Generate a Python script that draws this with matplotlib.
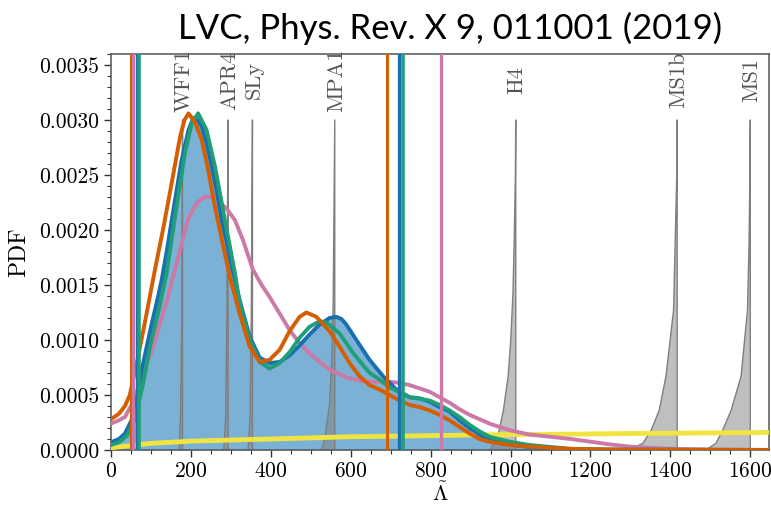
import numpy as np
import matplotlib
matplotlib.use("Agg")
import matplotlib.pyplot as plt
from matplotlib.ticker import MultipleLocator, FormatStrFormatter

plt.rcParams["font.family"] = "serif"
plt.rcParams["font.serif"] = ["cmr10"]
plt.rcParams["mathtext.fontset"] = "cm"
plt.rcParams["axes.formatter.use_mathtext"] = True

# posterior curves (Lambda-tilde, PDF)
blue_lam = [0, 20, 35, 50, 60, 77, 90, 102, 115, 127, 140, 152, 165, 177, 194, 206, 217, 227, 240, 252,
            265, 277, 290, 302, 322, 347, 372, 397, 422, 447, 472, 497, 522, 547, 564, 577, 589, 614,
            647, 681, 714, 747, 772, 797, 822, 847, 872, 897, 922, 947, 972, 1022, 1100, 1200, 1650]
blue_pdf = [0.00007, 0.0001, 0.00015, 0.00026, 0.00036, 0.00073, 0.00095, 0.00115, 0.00135, 0.00155,
            0.00182, 0.00209, 0.00238, 0.00264, 0.00291, 0.00302, 0.00300, 0.00294, 0.00278, 0.00258,
            0.00234, 0.00209, 0.00188, 0.00167, 0.00136, 0.00103, 0.00084, 0.00079, 0.0008, 0.00086,
            0.00095, 0.00105, 0.00114, 0.0012, 0.00121, 0.00119, 0.00114, 0.001, 0.00082, 0.00067,
            0.00055, 0.00048, 0.00047, 0.00044, 0.00039, 0.00035, 0.00027, 0.0002, 0.00014, 0.00009,
            0.000067, 0.000036, 0.00001, 0.000003, 0.0]

green_lam = [0, 20, 40, 60, 80, 100, 120, 139, 160, 185, 202, 218, 239, 260, 285, 310, 322, 347, 372,
             397, 422, 447, 472, 497, 522, 539, 572, 606, 647, 672, 697, 747, 797, 822, 847, 872, 897,
             922, 947, 997, 1047, 1150, 1250, 1650]
green_pdf = [0.000045, 0.00007, 0.00013, 0.00028, 0.0006, 0.00098, 0.00128, 0.0016, 0.00212, 0.0027,
             0.00297, 0.00306, 0.00291, 0.00258, 0.00209, 0.00161, 0.00133, 0.001, 0.0008, 0.00074,
             0.00079, 0.00089, 0.00102, 0.00112, 0.00117, 0.00116, 0.00106, 0.00088, 0.0007, 0.00064,
             0.00057, 0.00048, 0.00045, 0.00041, 0.00036, 0.0003, 0.00023, 0.00017, 0.00012, 0.000075,
             0.000045, 0.00001, 0.000002, 0.0]

orange_lam = [0, 20, 35, 47, 68, 89, 110, 131, 152, 173, 184, 194, 210, 227, 243, 260, 281, 297, 322,
              347, 372, 397, 422, 447, 472, 489, 514, 547, 572, 597, 622, 647, 672, 697, 722, 747, 772,
              797, 822, 847, 872, 897, 922, 947, 997, 1047, 1150, 1300, 1650]
orange_pdf = [0.00028, 0.00033, 0.0004, 0.0005, 0.00085, 0.00124, 0.00164, 0.00202, 0.00243, 0.00285,
              0.003, 0.00306, 0.00298, 0.00282, 0.00255, 0.00221, 0.00185, 0.00158, 0.00124, 0.00094,
              0.0008, 0.00082, 0.00091, 0.00108, 0.00121, 0.00125, 0.00121, 0.00108, 0.00094, 0.00079,
              0.00067, 0.00059, 0.00055, 0.0005, 0.00045, 0.00041, 0.00039, 0.00036, 0.00032, 0.00027,
              0.00021, 0.00015, 0.0001, 0.000075, 0.000045, 0.00003, 0.00001, 0.000002, 0.0]

pink_lam = [0, 20, 35, 50, 60, 80, 100, 120, 140, 160, 175, 193, 215, 235, 252, 270, 290, 310, 330,
            355, 377, 397, 422, 447, 472, 497, 522, 547, 572, 597, 622, 647, 672, 697, 722, 747, 772,
            797, 822, 847, 872, 897, 922, 947, 972, 997, 1047, 1100, 1150, 1200, 1250, 1300, 1400,
            1500, 1650]
pink_pdf = [0.00024, 0.00027, 0.0003, 0.0004, 0.00048, 0.0007, 0.00088, 0.00112, 0.00136, 0.00164,
            0.00185, 0.0021, 0.00225, 0.0023, 0.0023, 0.00226, 0.00219, 0.00209, 0.00191, 0.00164,
            0.0015, 0.00139, 0.00124, 0.00109, 0.00097, 0.00088, 0.0008, 0.00073, 0.00069, 0.00065,
            0.00063, 0.00062, 0.00062, 0.00062, 0.00061, 0.00059, 0.00056, 0.00053, 0.00048, 0.00043,
            0.00037, 0.00032, 0.00028, 0.00024, 0.00021, 0.00018, 0.00014, 0.00012, 0.0001, 0.000075,
            0.00005, 0.00003, 0.00001, 0.000003, 0.0]

yellow_lam = [0, 50, 100, 200, 300, 400, 500, 600, 700, 800, 900, 1000, 1100, 1200, 1300, 1400, 1500,
              1600, 1650]
yellow_pdf = [0.00002, 0.00004, 0.00006, 0.00008, 0.00009, 0.0001, 0.00011, 0.00012, 0.000125, 0.00013,
              0.000135, 0.00014, 0.000142, 0.000145, 0.00015, 0.000152, 0.000155, 0.000157, 0.00016]

# 90% bounds (vertical lines)
blue_bounds = [66, 722]
green_bounds = [71, 730]
orange_bounds = [50, 690]
pink_bounds = [55, 827]

# EOS predictions
eos_names = ["WFF1", "APR4", "SLy", "MPA1", "H4", "MS1b", "MS1"]
eos_lam = [179, 293, 354, 560, 1013, 1417, 1600]
eos_shape_lam = [
    [170, 174, 177, 179, 179],
    [282, 287, 290, 293, 293],
    [343, 348, 351, 354, 354],
    [527, 535, 547, 553, 556, 560, 560],
    [948, 968, 982, 994, 1000, 1006, 1009, 1012, 1013, 1013],
    [1297, 1331, 1352, 1372, 1389, 1408, 1412, 1416, 1417, 1417],
    [1489, 1514, 1531, 1552, 1577, 1593, 1597, 1599, 1600, 1600],
]
eos_shape_pdf = [
    [0, 0.0003, 0.0012, 0.003, 0],
    [0, 0.0003, 0.0012, 0.003, 0],
    [0, 0.0003, 0.0012, 0.003, 0],
    [0, 0.0001, 0.00042, 0.00088, 0.00133, 0.003, 0],
    [0, 0.00012, 0.00036, 0.00067, 0.00097, 0.00142, 0.00188, 0.00248, 0.003, 0],
    [0, 0.00006, 0.00018, 0.00036, 0.00067, 0.00127, 0.00188, 0.0025, 0.003, 0],
    [0, 0.00006, 0.00018, 0.00036, 0.00067, 0.00127, 0.00188, 0.0025, 0.003, 0],
]

c_blue = "#1a6fb0"
c_fill = "#7bb1d4"
c_green = "#1f9e78"
c_orange = "#d55e00"
c_pink = "#cc79a7"
c_yellow = "#f0e442"

fig = plt.figure(figsize=(7.71, 5.09), dpi=100)
ax = fig.add_axes([0.144, 0.116, 0.854, 0.778])

ax.fill_between(blue_lam, blue_pdf, 0, color=c_fill, lw=0, zorder=1)

for xs, ys in zip(eos_shape_lam, eos_shape_pdf):
    ax.fill(xs, ys, facecolor="#808080", alpha=0.5, edgecolor="none", zorder=2)
    ax.plot(xs, ys, color="#7f7f7f", lw=1.0, zorder=2.1)
for name, lam in zip(eos_names, eos_lam):
    ax.text(lam + 3, 0.00336, name, rotation=90, ha="center", va="center",
            color="#555555", fontsize=16)

ax.plot(yellow_lam, yellow_pdf, color=c_yellow, lw=3.5, zorder=3)
ax.plot(pink_lam, pink_pdf, color=c_pink, lw=2.8, zorder=3)
ax.plot(blue_lam, blue_pdf, color=c_blue, lw=2.8, zorder=3.1)
ax.plot(green_lam, green_pdf, color=c_green, lw=2.8, zorder=3.2)
ax.plot(orange_lam, orange_pdf, color=c_orange, lw=2.8, zorder=3.3)

for b in orange_bounds:
    ax.axvline(b, color=c_orange, lw=2.2, zorder=4)
for b in pink_bounds:
    ax.axvline(b, color=c_pink, lw=2.4, zorder=4)
for b in blue_bounds:
    ax.axvline(b, color=c_blue, lw=2.4, zorder=4)
for b in green_bounds:
    ax.axvline(b, color=c_green, lw=2.6, zorder=4)

ax.set_xlim(0, 1648)
ax.set_ylim(0, 0.0036)
ax.xaxis.set_major_locator(MultipleLocator(200))
ax.xaxis.set_minor_locator(MultipleLocator(50))
ax.yaxis.set_major_locator(MultipleLocator(0.0005))
ax.yaxis.set_minor_locator(MultipleLocator(0.0001))
ax.yaxis.set_major_formatter(FormatStrFormatter("%.4f"))
ax.tick_params(which="major", direction="out", length=5, width=1, labelsize=15.5, colors="#333333",
               labelcolor="black")
ax.tick_params(which="minor", direction="out", length=3, width=0.8, colors="#333333")
for s in ax.spines.values():
    s.set_color("#555555")
    s.set_linewidth(1.1)

ax.set_xlabel(r"$\tilde{\Lambda}$", fontsize=16, labelpad=0)
ax.set_ylabel("PDF", fontsize=17, labelpad=6)

fig.text(0.584, 0.945, "LVC, Phys. Rev. X 9, 011001 (2019)", family="Lato", fontsize=25,
         ha="center", va="center")

fig.savefig("out.png", dpi=100)
